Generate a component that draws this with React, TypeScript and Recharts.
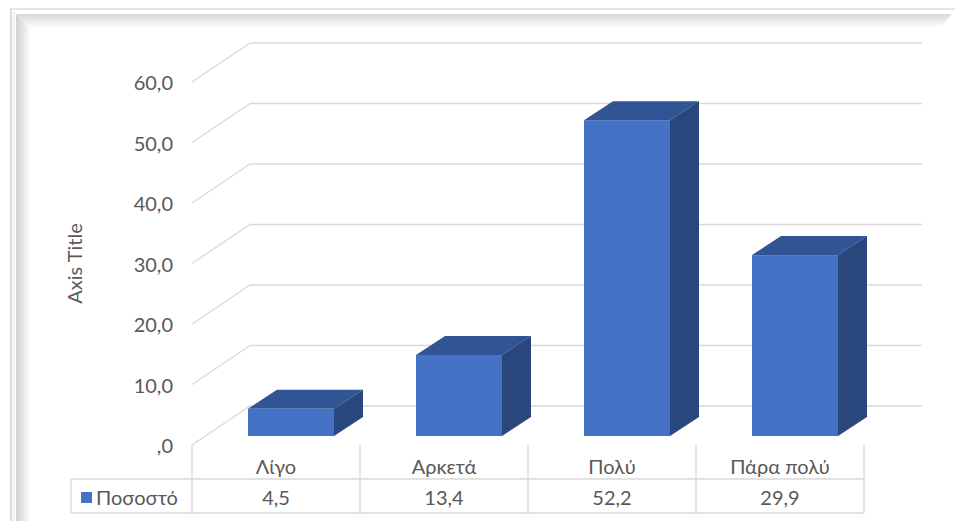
import React from "react";
import { BarChart, Bar, XAxis, YAxis, CartesianGrid } from "recharts";

const categories = ["Λίγο", "Αρκετά", "Πολύ", "Πάρα πολύ"];
const percentValues = [4.5, 13.4, 52.2, 29.9];
const yTicks = [0, 10, 20, 30, 40, 50, 60];
const seriesName = "Ποσοστό";

const data = categories.map((name, i) => ({ name, value: percentValues[i] }));

const FONT = "Lato, 'Open Sans', sans-serif";
const TEXT = "#595959";
const GRID = "#d9d9d9";
const FRONT = "#4472c4";
const TOP = "#315494";
const SIDE = "#29477d";

// 3d offsets (px)
const DEPTH_X = 29;
const DEPTH_Y = 19;
const FLOOR_FRONT_X = -15; // front edge of floor, relative to bar plane
const FLOOR_FRONT_Y = 9;
const WALL_X = 43; // back wall, relative to bar plane
const WALL_Y = -30;

const fmt = (v: number) => (v === 0 ? ",0" : v.toFixed(1).replace(".", ","));

const Bar3D = (props: any) => {
  const { x, y, width, height } = props;
  if (height <= 0) return null;
  return (
    <g>
      <polygon
        points={`${x},${y} ${x + DEPTH_X},${y - DEPTH_Y} ${x + width + DEPTH_X},${y - DEPTH_Y} ${x + width},${y}`}
        fill={TOP}
      />
      <polygon
        points={`${x + width},${y} ${x + width + DEPTH_X},${y - DEPTH_Y} ${x + width + DEPTH_X},${y + height - DEPTH_Y} ${x + width},${y + height}`}
        fill={SIDE}
      />
      <rect x={x} y={y} width={width} height={height} fill={FRONT} />
    </g>
  );
};

const GridLine = (props: any) => {
  const { x1, x2, y1 } = props;
  return (
    <g key={`g-${y1}`}>
      <line
        x1={x1 + FLOOR_FRONT_X}
        y1={y1 + FLOOR_FRONT_Y}
        x2={x1 + WALL_X}
        y2={y1 + WALL_Y}
        stroke={GRID}
        strokeWidth={1.3}
      />
      <line
        x1={x1 + WALL_X}
        y1={y1 + WALL_Y}
        x2={x2 + WALL_X}
        y2={y1 + WALL_Y}
        stroke={GRID}
        strokeWidth={1.3}
      />
    </g>
  );
};

const YTick = (props: any) => {
  const { x, y, payload } = props;
  return (
    <text
      x={x - 34}
      y={y + FLOOR_FRONT_Y}
      textAnchor="end"
      dominantBaseline="central"
      fill={TEXT}
      fontSize={20}
      fontFamily={FONT}
    >
      {fmt(payload.value)}
    </text>
  );
};

const TableTick = (props: any) => {
  const { x, y, payload, index, width } = props;
  const band = width / categories.length;
  const cx = x + FLOOR_FRONT_X;
  const left = cx - band / 2;
  const right = cx + band / 2;
  const last = index === categories.length - 1;
  return (
    <g>
      <line x1={left} y1={y + 9} x2={left} y2={y + 77} stroke={GRID} strokeWidth={1.3} />
      {last && <line x1={right} y1={y + 9} x2={right} y2={y + 77} stroke={GRID} strokeWidth={1.3} />}
      <line x1={left} y1={y + 43} x2={right} y2={y + 43} stroke={GRID} strokeWidth={1.3} />
      <line x1={left} y1={y + 77} x2={right} y2={y + 77} stroke={GRID} strokeWidth={1.3} />
      <text x={cx} y={y + 30} textAnchor="middle" dominantBaseline="central" fill={TEXT} fontSize={20} fontFamily={FONT}>
        {payload.value}
      </text>
      <text x={cx} y={y + 61} textAnchor="middle" dominantBaseline="central" fill={TEXT} fontSize={20} fontFamily={FONT}>
        {fmt(percentValues[index])}
      </text>
      {index === 0 && (
        <g>
          <line x1={71} y1={y + 43} x2={left} y2={y + 43} stroke={GRID} strokeWidth={1.3} />
          <line x1={71} y1={y + 77} x2={left} y2={y + 77} stroke={GRID} strokeWidth={1.3} />
          <line x1={71} y1={y + 43} x2={71} y2={y + 77} stroke={GRID} strokeWidth={1.3} />
          <rect x={81} y={y + 56} width={11} height={11} fill={FRONT} />
          <text x={96} y={y + 61} dominantBaseline="central" fill={TEXT} fontSize={20} fontFamily={FONT}>
            {seriesName}
          </text>
        </g>
      )}
    </g>
  );
};

const AxisTitle = (props: any) => {
  const { viewBox } = props;
  const cx = viewBox.x - 33;
  const cy = viewBox.y + viewBox.height / 2 + 9;
  return (
    <text
      x={cx}
      y={cy}
      transform={`rotate(-90 ${cx} ${cy})`}
      textAnchor="middle"
      dominantBaseline="central"
      fill={TEXT}
      fontSize={20}
      fontFamily={FONT}
    >
      Axis Title
    </text>
  );
};

const Frame = () => (
  <svg width={957} height={521} style={{ position: "absolute", left: 0, top: 0 }}>
    <defs>
      <linearGradient id="topBevel" x1="0" y1="0" x2="0" y2="1">
        <stop offset="0%" stopColor="#d8d8d8" />
        <stop offset="100%" stopColor="#ffffff" />
      </linearGradient>
      <linearGradient id="leftBevel" x1="0" y1="0" x2="1" y2="0">
        <stop offset="0%" stopColor="#d0d0d0" />
        <stop offset="100%" stopColor="#ffffff" />
      </linearGradient>
    </defs>
    <rect x={0} y={0} width={957} height={521} fill="#ffffff" />
    <line x1={10} y1={9} x2={955} y2={9} stroke="#dedede" strokeWidth={1.5} />
    <line x1={11} y1={9} x2={11} y2={521} stroke="#cfcfcf" strokeWidth={1.5} />
    <line x1={14} y1={12} x2={14} y2={521} stroke="#e2e2e2" strokeWidth={1} />
    <polygon points="16,14 952,14 940,28 31,28" fill="url(#topBevel)" />
    <polygon points="16,14 31,28 31,521 16,521" fill="url(#leftBevel)" />
  </svg>
);

export default function App() {
  return (
    <div style={{ position: "absolute", left: 0, top: 0, width: 957, height: 521, background: "#fff" }}>
      <Frame />
      <div style={{ position: "absolute", left: 0, top: 0 }}>
        <BarChart
          width={957}
          height={521}
          data={data}
          margin={{ top: 73, right: 78, bottom: 0, left: 107 }}
          barSize={86}
        >
          <CartesianGrid vertical={false} horizontal={GridLine as any} />
          <XAxis
            dataKey="name"
            type="category"
            height={85}
            axisLine={false}
            tickLine={false}
            tickSize={0}
            tickMargin={0}
            interval={0}
            tick={<TableTick />}
          />
          <YAxis
            type="number"
            domain={[0, 60]}
            ticks={yTicks}
            width={100}
            axisLine={false}
            tickLine={false}
            tickSize={0}
            tickMargin={0}
            tick={<YTick />}
            label={<AxisTitle />}
          />
          <Bar dataKey="value" shape={<Bar3D />} isAnimationActive={false} />
        </BarChart>
      </div>
    </div>
  );
}
